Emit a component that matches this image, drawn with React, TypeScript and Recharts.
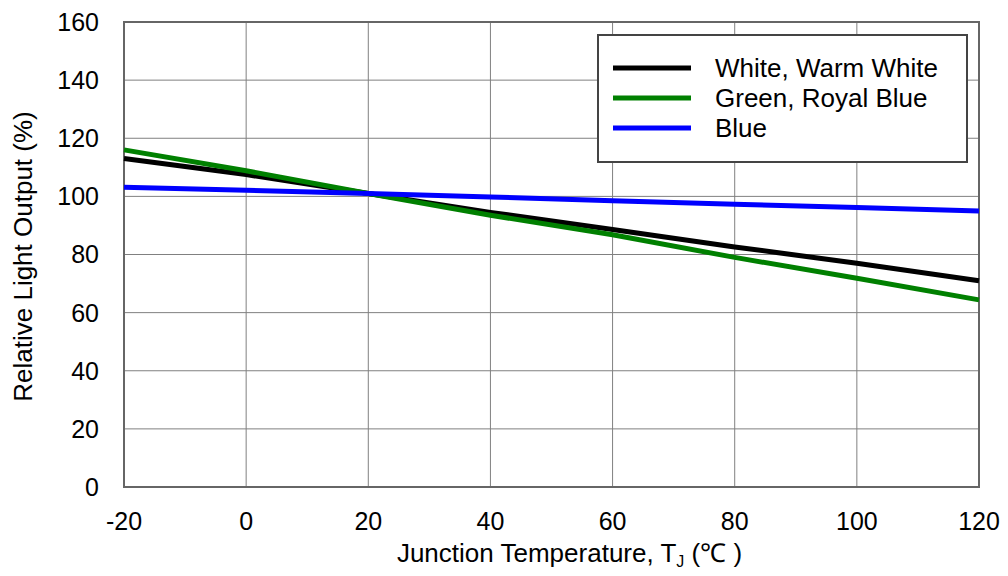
import React from 'react'
import { LineChart, Line, XAxis, YAxis, CartesianGrid, ReferenceArea } from 'recharts'

// junction temperature (°C)
const temps = [-20, 0, 20, 40, 60, 80, 100, 120]
// relative light output (%)
const whiteWarm = [113, 107.5, 101, 94.5, 88.6, 82.6, 77, 71]
const greenRoyal = [116, 108.8, 101, 93.5, 86.8, 79, 71.8, 64.4]
const blue = [103.1, 102.1, 101, 99.8, 98.5, 97.3, 96.2, 95]

const xTicks = [-20, 0, 20, 40, 60, 80, 100, 120]
const yTicks = [0, 20, 40, 60, 80, 100, 120, 140, 160]

const series = [
  { key: 'white', name: 'White, Warm White', color: '#000000', values: whiteWarm },
  { key: 'green', name: 'Green, Royal Blue', color: '#008000', values: greenRoyal },
  { key: 'blue', name: 'Blue', color: '#0000ff', values: blue },
]

const data = temps.map((t, i) => {
  const row: Record<string, number> = { t }
  series.forEach((s) => {
    row[s.key] = s.values[i]
  })
  return row
})

const FONT = '"Liberation Sans", Arial, sans-serif'

function XTitle({ viewBox }: any) {
  const cx = viewBox.x + viewBox.width / 2 + 18
  return (
    <text x={cx} y={viewBox.y + 75} textAnchor="middle" fontSize={26} fontFamily={FONT} fill="#000">
      Junction Temperature, T
      <tspan fontSize={16} dy={5}>J</tspan>
      <tspan dy={-5}> (℃ )</tspan>
    </text>
  )
}

function YTitle({ viewBox }: any) {
  const cy = viewBox.y + viewBox.height / 2 + 2
  const x = 32
  return (
    <text x={x} y={cy} transform={`rotate(-90 ${x} ${cy})`} textAnchor="middle" fontSize={26} fontFamily={FONT} fill="#000">
      Relative Light Output (%)
    </text>
  )
}

function LegendBox() {
  return (
    <div
      style={{
        position: 'absolute',
        left: 597,
        top: 34,
        width: 367,
        boxSizing: 'content-box',
        border: '2px solid #444',
        background: '#fff',
        padding: '17px 0 18px 0',
        fontFamily: FONT,
        fontSize: 26,
        lineHeight: '30px',
      }}
    >
      {series.map((s) => (
        <div key={s.key} style={{ display: 'flex', alignItems: 'center', height: 30 }}>
          <svg width={116} height={30} style={{ flex: 'none' }}>
            <line x1={14} x2={92} y1={15} y2={15} stroke={s.color} strokeWidth={5} />
          </svg>
          <span style={{ color: '#000' }}>{s.name}</span>
        </div>
      ))}
    </div>
  )
}

export default function App() {
  return (
    <div style={{ position: 'absolute', left: 0, top: 0, width: 1008, height: 576, background: '#fff' }}>
      <LineChart width={1008} height={576} data={data} margin={{ top: 22, right: 29, bottom: 0, left: 4 }}>
        <CartesianGrid stroke="#808080" strokeWidth={1} />
        <XAxis
          dataKey="t"
          type="number"
          domain={[-20, 120]}
          ticks={xTicks}
          height={89}
          axisLine={false}
          tickLine={false}
          tickMargin={19}
          tick={{ fontSize: 25, fontFamily: FONT, fill: '#000' }}
          label={<XTitle />}
        />
        <YAxis
          type="number"
          domain={[0, 160]}
          ticks={yTicks}
          width={120}
          axisLine={false}
          tickLine={false}
          tickMargin={19}
          tick={{ fontSize: 25, fontFamily: FONT, fill: '#000' }}
          label={<YTitle />}
        />
        <ReferenceArea x1={-20} x2={120} y1={0} y2={160} fill="none" stroke="#666" strokeWidth={2} ifOverflow="visible" />
        {series.map((s) => (
          <Line
            key={s.key}
            dataKey={s.key}
            name={s.name}
            stroke={s.color}
            strokeWidth={5}
            dot={false}
            type="linear"
            isAnimationActive={false}
          />
        ))}
      </LineChart>
      <LegendBox />
    </div>
  )
}
